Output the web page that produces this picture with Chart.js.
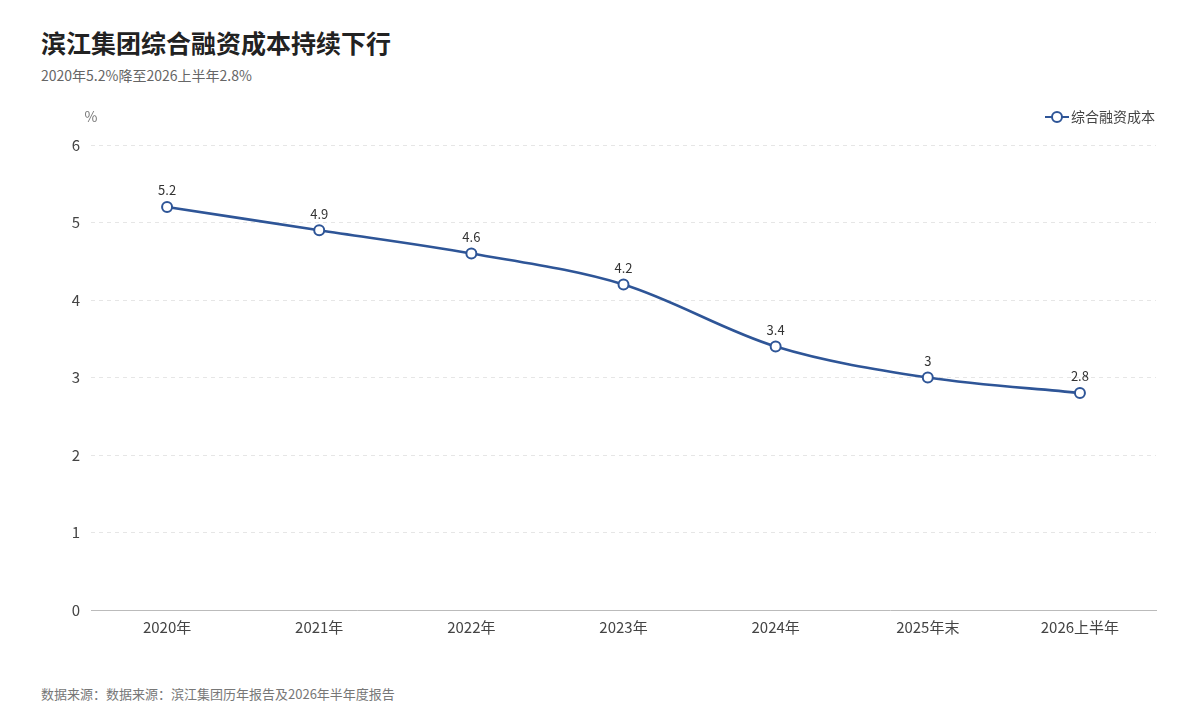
<!DOCTYPE html>
<html lang="zh-CN">
<head>
<meta charset="utf-8">
<script src="https://cdn.jsdelivr.net/npm/chart.js@4.4.1/dist/chart.umd.min.js"></script>
<style>
  html, body { margin: 0; padding: 0; background: #fff; }
  body { width: 1200px; height: 720px; position: relative; overflow: hidden;
         font-family: "Noto Sans CJK SC", "Noto Sans", sans-serif; }
  h1 { position: absolute; left: 41px; top: 24px; margin: 0; font-size: 25px; font-weight: 700; color: #222; }
  .sub { position: absolute; left: 41px; top: 65px; font-size: 14px; color: #666; }
  .foot { position: absolute; left: 41px; top: 684px; font-size: 13px; color: #777; }
  .chart-box { position: absolute; left: 0; top: 95px; width: 1200px; height: 560px; }
</style>
</head>
<body>
<h1>滨江集团综合融资成本持续下行</h1>
<div class="sub">2020年5.2%降至2026上半年2.8%</div>
<div class="chart-box"><canvas id="costChart"></canvas></div>
<div class="foot">数据来源：数据来源：滨江集团历年报告及2026年半年度报告</div>

<script>
const years = ['2020年', '2021年', '2022年', '2023年', '2024年', '2025年末', '2026上半年'];
const costRate = [5.2, 4.9, 4.6, 4.2, 3.4, 3.0, 2.8];
const yTicks = [0, 1, 2, 3, 4, 5, 6];

const lineColor = '#2e5597';
const fontFamily = '"Noto Sans CJK SC", "Noto Sans", sans-serif';

// legend marker: short line with hollow circle
function legendIcon() {
    const c = document.createElement('canvas');
    c.width = 24; c.height = 14;
    const g = c.getContext('2d');
    g.strokeStyle = lineColor;
    g.lineWidth = 2;
    g.beginPath(); g.moveTo(0, 7); g.lineTo(24, 7); g.stroke();
    g.beginPath(); g.arc(12, 7, 5, 0, Math.PI * 2);
    g.fillStyle = '#fff'; g.fill(); g.stroke();
    return c;
}

const valueLabels = {
    id: 'valueLabels',
    afterDatasetsDraw(chart) {
        const ctx = chart.ctx;
        const meta = chart.getDatasetMeta(0);
        ctx.save();
        ctx.font = '13px ' + fontFamily;
        ctx.fillStyle = '#333';
        ctx.textAlign = 'center';
        ctx.textBaseline = 'bottom';
        meta.data.forEach((pt, i) => {
            ctx.fillText(String(costRate[i]), pt.x, pt.y - 10);
        });
        // unit label above the y axis
        ctx.font = '14px ' + fontFamily;
        ctx.fillStyle = '#777';
        ctx.textAlign = 'center';
        ctx.fillText('%', chart.chartArea.left, chart.chartArea.top - 21);
        ctx.restore();
    }
};

const legendGap = {
    id: 'legendGap',
    beforeInit(chart) {
        const fit = chart.legend.fit;
        chart.legend.fit = function () {
            fit.bind(chart.legend)();
            this.height += 11;
        };
    }
};

new Chart(document.getElementById('costChart'), {
    type: 'line',
    data: {
        labels: years,
        datasets: [{
            label: '综合融资成本',
            data: costRate,
            borderColor: lineColor,
            borderWidth: 2.6,
            cubicInterpolationMode: 'monotone',
            pointRadius: 5,
            pointHoverRadius: 5,
            pointBorderWidth: 2,
            pointBackgroundColor: '#fff',
            pointBorderColor: lineColor,
            pointStyle: 'circle'
        }]
    },
    options: {
        responsive: true,
        maintainAspectRatio: false,
        animation: false,
        layout: { padding: { left: 0, right: 44, top: 14, bottom: 19 } },
        plugins: {
            legend: {
                position: 'top',
                align: 'end',
                labels: {
                    usePointStyle: true,
                    pointStyle: legendIcon(),
                    color: '#444',
                    font: { family: fontFamily, size: 14 },
                    padding: 1
                }
            },
            tooltip: { enabled: false }
        },
        scales: {
            x: {
                offset: true,
                grid: { display: false },
                border: { display: true, color: '#bbb', width: 1 },
                ticks: { color: '#444', font: { family: fontFamily, size: 15 }, padding: 0 }
            },
            y: {
                min: 0,
                max: 6,
                afterBuildTicks: s => { s.ticks = yTicks.map(v => ({ value: v })); },
                afterFit: s => { s.width = 91; },
                grid: { color: '#e6e6e6', drawTicks: false, lineWidth: 1 },
                border: { display: false, dash: [4, 4] },
                ticks: { color: '#444', font: { family: fontFamily, size: 15 }, padding: 11 }
            }
        }
    },
    plugins: [valueLabels, legendGap]
});
</script>
</body>
</html>
